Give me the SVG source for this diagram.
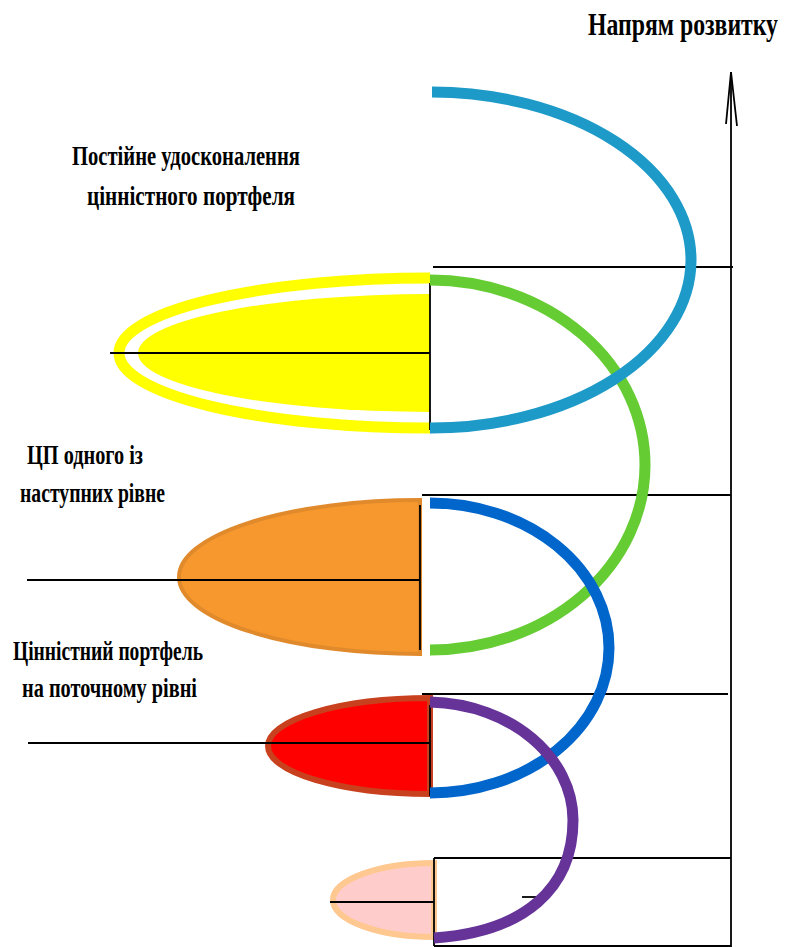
<svg xmlns="http://www.w3.org/2000/svg" width="788" height="947" viewBox="0 0 788 947">
<style>
  .lbl { font-family: "Liberation Serif", "Times New Roman", serif; font-weight: bold; font-size: 27px; fill: #000; }
  .ttl { font-family: "Liberation Serif", "Times New Roman", serif; font-weight: bold; font-size: 31px; fill: #000; }
  .ln { stroke: #000; stroke-width: 1.8; fill: none; }
  .sp { fill: none; stroke-width: 11; stroke-linecap: butt; }
</style>
<rect width="788" height="947" fill="#fff"/>

<g id="title">
  <text class="ttl" x="588" y="35" textLength="190" lengthAdjust="spacingAndGlyphs">Напрям розвитку</text>
</g>

<g id="axis">
  <line class="ln" x1="731" y1="72" x2="731" y2="947"/>
  <polyline class="ln" points="726,124 731,72 737,126" stroke-width="1.5"/>
</g>

<g id="level-yellow">
  <path d="M430,278 A311,75 0 0 0 430,428" fill="none" stroke="#FFFF00" stroke-width="11"/>
  <path d="M430,294 A292,59 0 0 0 430,412 Z" fill="#FFFF00"/>
  <line class="ln" x1="110" y1="353" x2="430" y2="353"/>
  <line class="ln" x1="430" y1="283" x2="430" y2="430"/>
</g>

<g id="level-orange">
  <path d="M420,500 A241,77 0 0 0 420,654 Z" fill="#F7982F" stroke="#E08A2C" stroke-width="4"/>
  <line class="ln" x1="27" y1="580" x2="420" y2="580"/>
  <line class="ln" x1="420" y1="505" x2="420" y2="650"/>
</g>

<g id="level-red">
  <path d="M430,698 A162,48 0 0 0 430,794 Z" fill="#FF0000" stroke="#C8401E" stroke-width="6"/>
  <line class="ln" x1="28" y1="743" x2="430" y2="743"/>
  <line class="ln" x1="430" y1="705" x2="430" y2="796"/>
</g>

<g id="level-pink">
  <path d="M434,863 A101,37 0 0 0 434,937 Z" fill="#FFCCCC" stroke="#FFC890" stroke-width="6"/>
  <line class="ln" x1="330" y1="902" x2="434" y2="902"/>
</g>

<g id="label-top">
  <text class="lbl" x="72" y="165" textLength="228" lengthAdjust="spacingAndGlyphs">Постійне удосконалення</text>
  <text class="lbl" x="87" y="205" textLength="208" lengthAdjust="spacingAndGlyphs">цінністного портфеля</text>
</g>
<g id="label-next">
  <text class="lbl" x="27" y="464" textLength="116" lengthAdjust="spacingAndGlyphs">ЦП одного із</text>
  <text class="lbl" x="20" y="502" textLength="145" lengthAdjust="spacingAndGlyphs">наступних рівне</text>
</g>
<g id="label-current">
  <text class="lbl" x="13" y="660" textLength="190" lengthAdjust="spacingAndGlyphs">Цінністний портфель</text>
  <text class="lbl" x="22" y="697" textLength="175" lengthAdjust="spacingAndGlyphs">на поточному рівні</text>
</g>

<g id="connectors">
  <line class="ln" x1="433" y1="267" x2="733" y2="267"/>
  <line class="ln" x1="422" y1="495" x2="731" y2="495"/>
  <line class="ln" x1="422" y1="694" x2="728" y2="694"/>
  <line class="ln" x1="434" y1="858" x2="731" y2="858"/>
  <line class="ln" x1="434" y1="946" x2="731" y2="946"/>
  <line class="ln" x1="434" y1="858" x2="434" y2="946"/>
  <line class="ln" x1="522" y1="897" x2="544" y2="897"/>
  <path class="sp" stroke="#66CC33" d="M430,280 A215,185 0 0 1 430,650"/>
  <path class="sp" stroke="#1E9AC8" d="M432,92 A260,168 0 0 1 430,428"/>
  <path class="sp" stroke="#0066CC" d="M430,503 A179,145 0 0 1 430,793"/>
  <path class="sp" stroke="#663399" d="M430,702 C512,704 573,758 573,820 C573,888 525,932 434,938"/>
</g>
</svg>
